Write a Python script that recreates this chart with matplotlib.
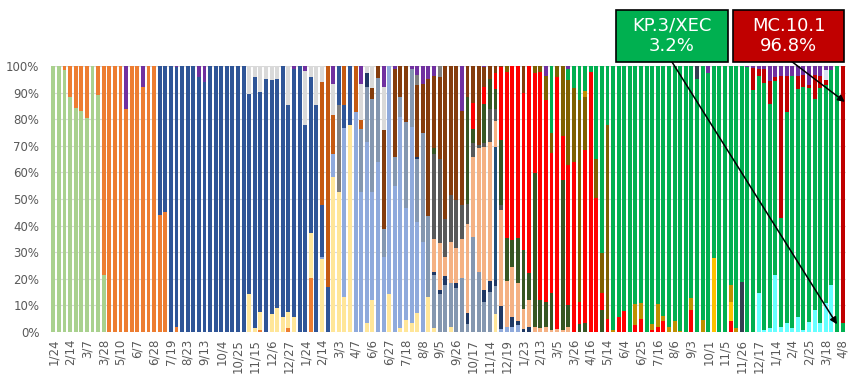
"""
Udzialy wariantow (100% stacked bar), tygodniowo.
"""

import matplotlib

matplotlib.use("Agg")
import matplotlib.pyplot as plt
import numpy as np
from matplotlib.patches import Rectangle

N_BARS = 142

# etykiety osi X - co trzeci slupek
tick_labels = [
    "1/24", "2/14", "3/7", "3/28", "5/10", "6/7", "6/28", "7/19", "8/23", "9/13",
    "10/4", "10/25", "11/15", "12/6", "12/27", "1/24", "2/14", "3/3", "4/7", "6/6",
    "6/27", "7/18", "8/8", "9/5", "9/26", "10/17", "11/14", "12/19", "1/23", "2/13",
    "3/5", "3/26", "4/16", "5/14", "6/4", "6/25", "7/16", "8/6", "9/3", "10/1",
    "11/5", "11/26", "12/17", "1/14", "2/4", "2/25", "3/18", "4/8",
]

# udzialy [%] per slupek (indeks slupka -> wartosc), od dolu stosu
lgreen = {0: 100, 1: 100, 2: 98.5, 3: 88.4, 4: 84.3, 5: 83, 6: 80.3, 7: 100, 8: 89, 9: 21.6}
orange = {2: 1.5, 3: 11.6, 4: 15.7, 5: 17, 6: 19.7, 8: 11, 9: 78.4, 10: 100, 11: 100,
          12: 100, 13: 84, 14: 100, 15: 100, 16: 92, 17: 100, 18: 100, 19: 44, 20: 45,
          22: 2, 37: 0.8, 42: 1.4, 46: 20.2}
lyellow = {35: 14.3, 36: 1.6, 37: 6.8, 39: 6.7, 40: 9.2, 41: 5.8, 42: 6.2, 43: 5.5,
           46: 16.9, 48: 27.3, 50: 58.1, 51: 52.8, 52: 13, 53: 77.8, 56: 3.3, 57: 12,
           60: 14.3, 62: 1.4, 63: 4.5, 64: 3.3, 65: 7, 67: 13.3, 68: 1.4, 71: 2, 79: 6.6}
lblue = {48: 1, 50: 8.8, 52: 63.6, 54: 82.8, 55: 52.8, 56: 68.3, 57: 40.8, 58: 64,
         59: 28.3, 60: 85.7, 61: 54.9, 62: 79.6, 63: 42, 64: 73.9, 65: 34.5, 66: 34,
         80: 1, 81: 2, 82: 1.8, 83: 2.6}
grayblue = {55: 23.4, 56: 20.6, 57: 34.7, 58: 31.4, 59: 10.3, 61: 11, 62: 7.2, 63: 32.6,
            64: 21.6, 65: 23.4, 66: 40.7, 67: 30.3, 68: 20, 69: 14.4, 70: 17.5, 71: 16.3,
            72: 16.4, 73: 20.2, 74: 3.1, 75: 35.6, 76: 22.7, 77: 11.4, 78: 15.2, 79: 10.5}
gray1 = {51: 32.5}
blue = {19: 56, 20: 55, 21: 100, 22: 97.5, 23: 100, 24: 100, 25: 100, 26: 96, 27: 94,
        28: 100, 29: 100, 30: 100, 31: 100, 32: 100, 33: 100, 34: 100, 35: 75.1,
        36: 94.4, 37: 82.7, 38: 95, 39: 88, 40: 85.8, 41: 94.2, 42: 77.7, 43: 93.2,
        44: 100, 45: 77.8, 46: 58.9, 47: 85.3, 48: 19.4, 49: 17, 51: 14.7, 52: 8.7,
        53: 22.2}
rust = {48: 46.4, 49: 83, 50: 14.7, 52: 14.7, 54: 17.2, 55: 3.5}
navy = {56: 5, 65: 1, 68: 1.3, 69: 1.3, 70: 3.4, 72: 1.9, 74: 4, 77: 4.4, 78: 3.8,
        79: 2.3, 80: 8.8, 82: 3.8, 83: 1.6, 84: 1.3, 85: 1.9}
steel = {79: 49.9}
peach = {68: 12.1, 69: 17.8, 70: 7.3, 71: 15.7, 72: 13.2, 73: 14.7, 74: 33.3, 75: 30.3,
         76: 46.4, 77: 53.6, 78: 52.6, 79: 10, 80: 36.1, 81: 17.3, 82: 18.8, 83: 14.3,
         84: 7.5, 85: 10.1, 86: 2, 87: 1.4, 88: 2, 89: 0.8, 90: 1, 91: 0.7, 92: 2}
dgray = {68: 32.1, 69: 31.3, 70: 14.4, 71: 17.5, 72: 18.2, 73: 12.9, 74: 7.5, 75: 5.3,
         76: 1.3, 77: 1.5, 78: 12.2, 79: 4.3, 80: 1.9}
dgreen = {68: 2.1, 74: 40.1, 75: 5, 77: 14.8, 78: 11.3, 79: 7.5, 80: 24.4, 81: 15.9,
          82: 10.3, 83: 16.7, 84: 22, 85: 10, 86: 57.6, 87: 10.6, 88: 9.4, 89: 13.7,
          91: 56.4, 92: 8, 94: 3, 95: 3.3, 98: 8.3}
red = {75: 10, 77: 6.3, 79: 6, 80: 27.3, 81: 62.7, 82: 65.4, 83: 64.8, 84: 59, 85: 78,
       86: 37.6, 87: 85.9, 88: 75.8, 89: 52.9, 90: 95, 91: 16.7, 92: 52.8, 93: 64,
       94: 8.4, 95: 65.1, 96: 97.9, 97: 50.3, 98: 6.3, 99: 4.8, 101: 5.8, 102: 7.8,
       104: 2.5, 105: 4.8, 107: 0.8, 108: 2, 109: 4.2, 114: 8.3, 121: 4.2}
brown = {57: 4.1, 58: 4.6, 59: 37.3, 61: 32.8, 62: 11.8, 63: 20.9, 65: 27, 66: 18.5,
         67: 51.4, 68: 27.2, 69: 31.1, 70: 57.4, 71: 48.5, 72: 50.3, 73: 35.5, 74: 11.8,
         75: 13.8, 76: 29.7, 77: 7.5, 78: 5, 79: 2.8, 80: 0.5, 84: 10.2}
olive = {81: 2.1, 86: 2.8, 87: 2.1, 88: 9, 89: 7.3, 90: 4, 91: 26.2, 92: 31.9, 93: 27.6,
         94: 75.8, 95: 19.8, 97: 14.6, 98: 15.2, 99: 73}
yellow = {118: 27.8, 121: 7.2}
gold = {95: 2.5, 100: 0.8, 104: 8, 105: 6.1, 107: 2.1, 108: 8.5, 109: 1.9, 110: 2,
        111: 4.2, 112: 0.4, 114: 4.3, 116: 4.5, 121: 6.3, 122: 1.6}
slate_a = {123: 18.7}
cyan = {126: 14.6, 127: 0.8, 128: 1.6, 129: 21.5, 130: 2, 131: 3.5, 132: 1.5, 133: 5.8,
        134: 0.8, 135: 3.5, 136: 8, 137: 3.3, 138: 11, 139: 17.7}
green = {89: 25.3, 92: 4.3, 93: 8.4, 94: 12.8, 95: 9.3, 96: 2.1, 97: 35.1, 98: 70.2,
         99: 22.2, 100: 99.2, 101: 94.2, 102: 92.2, 103: 100, 104: 89.5, 105: 89.1,
         106: 100, 107: 97.1, 108: 89.5, 109: 93.9, 110: 98, 111: 95.8, 112: 99.6,
         113: 100, 114: 87.4, 115: 95, 116: 95.5, 117: 97.2, 118: 72.2, 119: 100,
         120: 100, 121: 82.3, 122: 98.4, 123: 81.3, 124: 99.5, 125: 90.9, 126: 81.7,
         127: 92.6, 128: 84.3, 129: 72.9, 130: 41, 131: 79.4, 132: 94.8, 133: 85.4,
         134: 87.9, 135: 84.6, 136: 75.2, 137: 85.9, 138: 82.3, 139: 80.8, 140: 100,
         141: 3.2}
slate_b = {115: 5}
dred = {125: 8.3, 126: 2.5, 127: 5.4, 128: 8.8, 129: 1.3, 130: 53.4, 131: 13.9, 133: 5,
        134: 4.2, 135: 1, 136: 8.6, 137: 4.4, 138: 1.8, 141: 96.8}
lavender = {138: 3.8}
gray2 = {65: 3.7, 69: 4}
lgray = {35: 10.6, 36: 4, 37: 9.7, 38: 5, 39: 5.3, 40: 5, 42: 14.7, 45: 20.4, 46: 4,
         47: 14.7, 48: 5.9, 50: 11.6, 55: 13.5, 56: 2.8, 57: 8.4, 59: 16.3}
purple = {13: 16, 16: 8, 22: 0.5, 26: 4, 27: 6, 43: 1.3, 45: 1.8, 50: 6.8, 55: 6.8,
          59: 7.8, 61: 1.3, 64: 1.3, 65: 3.4, 66: 6.8, 67: 5, 68: 3.8, 73: 16.8,
          77: 0.5, 88: 3.8, 92: 1, 117: 2.8, 124: 0.5, 125: 0.8, 126: 1.1, 127: 1.1,
          128: 5.5, 129: 4.3, 130: 3.6, 131: 3.6, 132: 3.7, 133: 3.7, 134: 3.3,
          135: 6.8, 136: 3.3, 137: 3.6, 138: 1.5, 139: 1.5}

# kolejnosc stosu (od dolu) i kolory
SERIES = [
    (lgreen, "#A9D18E"), (orange, "#ED7D31"), (lyellow, "#FFE699"), (lblue, "#8FAADC"),
    (grayblue, "#8497B0"), (gray1, "#7F7F7F"), (blue, "#2F5597"), (rust, "#C55A11"),
    (navy, "#1F3864"), (steel, "#1F4E79"), (peach, "#F4B183"), (dgray, "#595959"),
    (dgreen, "#375623"), (red, "#FF0000"), (brown, "#843C0C"), (olive, "#7F6000"),
    (yellow, "#FFC000"), (gold, "#BF9000"), (slate_a, "#333F50"), (cyan, "#66FFFF"),
    (green, "#00B050"), (slate_b, "#333F50"), (dred, "#C00000"), (lavender, "#DAE3F3"),
    (gray2, "#7F7F7F"), (lgray, "#D9D9D9"), (purple, "#7030A0"),
]


def to_array(d):
    arr = np.zeros(N_BARS)
    for k, v in d.items():
        arr[k] = v
    return arr


def main():
    data = np.array([to_array(d) for d, _ in SERIES])
    data = data / data.sum(axis=0) * 100  # 100% stacked

    x = np.arange(N_BARS)
    fig = plt.figure(figsize=(8.58, 3.83), dpi=100)
    ax = fig.add_axes([0.0589, 0.1332, 0.927, 0.6945])

    bottom = np.zeros(N_BARS)
    for (_, color), vals in zip(SERIES, data):
        ax.bar(x, vals, bottom=bottom, width=0.7, color=color, linewidth=0, zorder=2)
        bottom += vals

    ax.set_xlim(-0.5, 141.6)
    ax.set_ylim(0, 100)
    ax.set_yticks(range(0, 101, 10))
    ax.set_yticklabels([f"{v}%" for v in range(0, 101, 10)])
    ax.set_xticks(x[::3])
    ax.set_xticklabels(tick_labels, rotation=90)
    ax.yaxis.grid(True, color="#D9D9D9", linewidth=0.8, zorder=0)
    ax.set_axisbelow(True)
    for s in ax.spines.values():
        s.set_visible(False)
    ax.tick_params(axis="both", length=0, colors="#595959", labelsize=8.5)
    ax.tick_params(axis="y", pad=8)
    ax.tick_params(axis="x", pad=5)

    # ramki z opisem
    boxes = [
        (0.718, "#00B050", "KP.3/XEC", "3.2%"),
        (0.854, "#C00000", "MC.10.1", "96.8%"),
    ]
    for left, fc, name, pct in boxes:
        fig.patches.append(
            Rectangle((left, 0.839), 0.130, 0.135, transform=fig.transFigure,
                      facecolor=fc, edgecolor="black", linewidth=1.2, zorder=5)
        )
        fig.text(left + 0.065, 0.933, name, color="white", fontsize=13,
                 ha="center", va="center", zorder=6)
        fig.text(left + 0.065, 0.880, pct, color="white", fontsize=13,
                 ha="center", va="center", zorder=6)

    arrow = dict(arrowstyle="-|>", color="black", lw=1.1, mutation_scale=10,
                 shrinkA=0, shrinkB=0)
    ax.annotate("", xy=(140.0, 2.9), xytext=(0.783, 0.839), xycoords="data",
                textcoords="figure fraction", arrowprops=arrow, annotation_clip=False)
    ax.annotate("", xy=(141.4, 86.5), xytext=(0.923, 0.839), xycoords="data",
                textcoords="figure fraction", arrowprops=arrow, annotation_clip=False)

    fig.savefig("out.png", dpi=100)


if __name__ == "__main__":
    main()
